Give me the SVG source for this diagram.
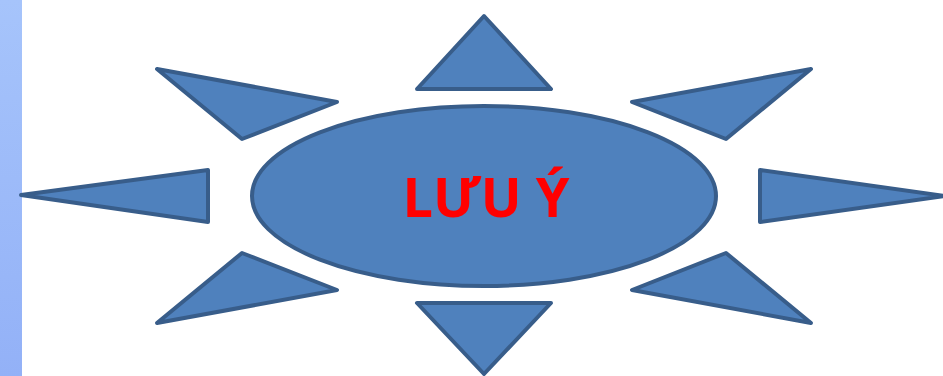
<svg xmlns="http://www.w3.org/2000/svg" width="943" height="376" viewBox="0 0 943 376">
<defs>
<linearGradient id="strip" x1="0" y1="0" x2="0" y2="1">
<stop offset="0" stop-color="#a6c4fb"/>
<stop offset="1" stop-color="#93b1f7"/>
</linearGradient>
<style>
.s{fill:#4f81bd;stroke:#385d8a;stroke-width:4;stroke-linejoin:round}
.t{font-family:"Open Sans","Liberation Sans",sans-serif;font-weight:bold;font-size:54px;fill:#ff0000}
</style>
</defs>
<rect x="0" y="0" width="943" height="376" fill="#ffffff"/>
<rect x="0" y="0" width="22" height="376" fill="url(#strip)"/>
<g id="tri-top"><polygon class="s" points="484,16 551,89 417,89"/></g>
<g id="tri-bottom"><polygon class="s" points="417,303 551,303 484,374"/></g>
<g id="tri-left"><polygon class="s" points="21,195 208,170 208,222"/></g>
<g id="tri-right"><polygon class="s" points="760,170 945,196 760,222"/></g>
<g id="tri-topleft"><polygon class="s" points="157,69 337,102 242,139"/></g>
<g id="tri-bottomleft"><polygon class="s" points="242,253 337,290 157,323"/></g>
<g id="tri-topright"><polygon class="s" points="811,69 632,102 726,139"/></g>
<g id="tri-bottomright"><polygon class="s" points="726,253 632,290 811,323"/></g>
<g id="center">
<ellipse class="s" cx="484" cy="196" rx="232" ry="90"/>
<text class="t" x="486" y="217" text-anchor="middle">LƯU Ý</text>
</g>
</svg>
